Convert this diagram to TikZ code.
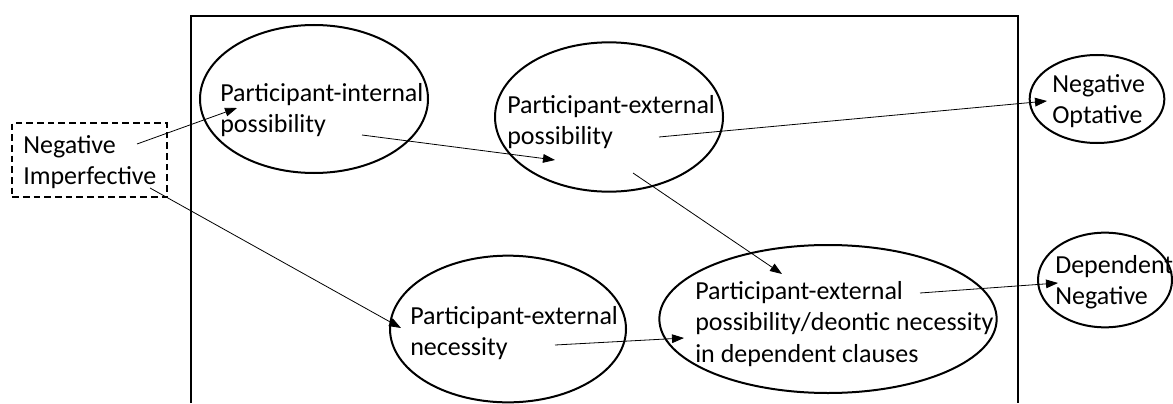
\documentclass[tikz,border=0pt]{standalone}
\usepackage{fontspec}
\setmainfont{Carlito}
\usetikzlibrary{arrows.meta,shapes.geometric}

\tikzset{
  oval/.style={draw, ellipse, line width=1.5pt, inner sep=0pt},
  txt/.style={align=left, anchor=west, inner sep=0pt, font=\fontsize{19.5}{23.5}\selectfont},
  link/.style={line width=0.6pt, -{Triangle[length=9pt,width=6.5pt]}},
}

\begin{document}
\begin{tikzpicture}[x=0.75pt,y=-0.75pt]
\useasboundingbox (0,0) rectangle (1173,403);

%draws open frame
\draw[line width=1.5pt] (191,403) -- (191,16) -- (1018,16) -- (1018,403);

%draws ellipses and boxes
\node[draw, dashed, line width=1.1pt, dash pattern=on 5pt off 3pt, minimum width=116pt, minimum height=55.5pt] (negimp) at (89.5,160) {};
\node[oval, minimum width=171pt, minimum height=111pt] (pint) at (314,99) {};
\node[oval, minimum width=171pt, minimum height=112pt] (pextposs) at (609,117) {};
\node[oval, minimum width=101pt, minimum height=66pt] (negopt) at (1097,99) {};
\node[oval, minimum width=177pt, minimum height=110pt] (pextnec) at (508,329) {};
\node[oval, minimum width=253pt, minimum height=111pt] (depcl) at (828,319) {};
\node[oval, minimum width=100.5pt, minimum height=71pt] (depneg) at (1105,280) {};

%labels
\node[txt] (negimptext) at (23,162) {Negative\\Imperfective};
\node[txt] (pinttext) at (220,110) {Participant-internal\\possibility};
\node[txt] (pextpossgtext) at (507,122) {Participant-external\\possibility};
\node[txt] (negopttext) at (1052,101) {Negative\\Optative};
\node[txt] (pextnectext) at (410,333) {Participant-external\\necessity};
\node[txt] (depcltext) at (695,324) {Participant-external\\possibility/deontic necessity\\in dependent clauses};
\node[txt] (depnegtext) at (1055,282) {Dependent\\Negative};

%arrow ends
\coordinate (a1) at (137,144);  \coordinate (b1) at (237,108);
\coordinate (a2) at (362,135);  \coordinate (b2) at (555,160);
\coordinate (a3) at (659,137);  \coordinate (b3) at (1047,101);
\coordinate (a4) at (633,173);  \coordinate (b4) at (782,274);
\coordinate (a5) at (150,188);  \coordinate (b5) at (401,328);
\coordinate (a6) at (555,345);  \coordinate (b6) at (684,338);
\coordinate (a7) at (920,293);  \coordinate (b7) at (1058,283);

%draw arrows
\foreach \i in {1,...,7}
    \draw[link] (a\i) -- (b\i);
\end{tikzpicture}
\end{document}
